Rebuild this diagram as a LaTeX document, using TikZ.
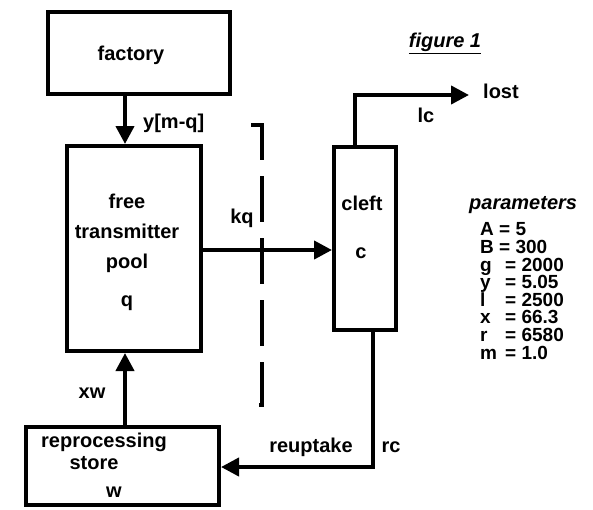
\documentclass[tikz,border=0pt]{standalone}
\usepackage{fontspec}
\setmainfont{Liberation Sans}
\usetikzlibrary{arrows.meta}
\begin{document}
\begin{tikzpicture}[x=1pt,y=-1pt,
  every node/.style={font=\fontsize{20}{24}\selectfont\bfseries, inner sep=0pt},
  box/.style={draw, line width=4pt, minimum width=#1},
  flow/.style={line width=4pt, -{Triangle[length=18pt,width=18pt]}},
  lbl/.style={anchor=center},
  param/.style={anchor=base west, font=\fontsize{19}{20}\selectfont\bfseries}]
\useasboundingbox (0,0) rectangle (593,509);

% compartments
\node[box=182pt, minimum height=82pt] (factory) at (139,53) {};
\node[box=134pt, minimum height=205pt] (pool) at (134,248.5) {};
\node[box=62pt, minimum height=183pt] (cleft) at (365,238.5) {};
\node[box=193pt, minimum height=78pt] (store) at (122.5,466) {};

% compartment texts
\node[lbl] (tfac) at (131,55) {factory};
\node[lbl] (tfree) at (127,201) {free};
\node[lbl] (ttrans) at (127,231) {transmitter};
\node[lbl] (tpool) at (127,263) {pool};
\node[lbl] (tq) at (127,303) {q};
\node[lbl] (tcleft) at (362,203) {cleft};
\node[lbl] (tc) at (361,253) {c};
\node[lbl] (trep) at (104,442) {reprocessing};
\node[lbl] (tstore) at (94,463) {store};
\node[lbl] (tw) at (114,492) {w};

% helper coordinates for connector routes
\coordinate (colA) at (125,0);
\coordinate (rowK) at (0,250);
\coordinate (colL) at (355,0);
\coordinate (bendL) at (355,95);
\coordinate (lostend) at (469,95);
\coordinate (colR) at (373,0);
\coordinate (bendR) at (373,467);

% flows
\draw[flow] (factory.south -| colA) -- (pool.north -| colA);
\draw[flow] (pool.east |- rowK) -- (cleft.west |- rowK);
\draw[flow] (cleft.north -| colL) -- (bendL) -- (lostend);
\draw[flow] (cleft.south -| colR) -- (bendR) -- (store.east |- bendR);
\draw[flow] (store.north -| colA) -- (pool.south -| colA);

% membrane
\draw[line width=3.5pt, dash pattern=on 46pt off 16pt]
  (251,125) -- (262,125) -- (262,405) -- (251,405);

% flow labels
\node[anchor=west] (lymq) at (143,123) {y[m-q]};
\node[lbl] (lkq) at (242,218) {kq};
\node[lbl] (llc) at (426,115) {lc};
\node[anchor=west] (lost) at (483,91) {lost};
\node[lbl] (lxw) at (92,393) {xw};
\node[lbl] (lre) at (311,447) {reuptake};
\node[lbl] (lrc) at (391,447) {rc};

% title
\node[lbl] (title) at (445,43) {\itshape\underline{figure 1}};

% parameter list
\node[anchor=west] (phead) at (469,205) {\itshape parameters};
\node[param] (pA) at (480,235.8) {A = 5};
\node[param] (pB) at (480,253.4) {B = 300};
\node[param] (pg) at (480,271.0) {\makebox[25pt][l]{g}= 2000};
\node[param] (py) at (480,288.6) {\makebox[25pt][l]{y}= 5.05};
\node[param] (pl) at (480,306.2) {\makebox[25pt][l]{l}= 2500};
\node[param] (px) at (480,323.8) {\makebox[25pt][l]{x}= 66.3};
\node[param] (pr) at (480,341.4) {\makebox[25pt][l]{r}= 6580};
\node[param] (pm) at (480,359.0) {\makebox[25pt][l]{m}= 1.0};
\end{tikzpicture}
\end{document}
